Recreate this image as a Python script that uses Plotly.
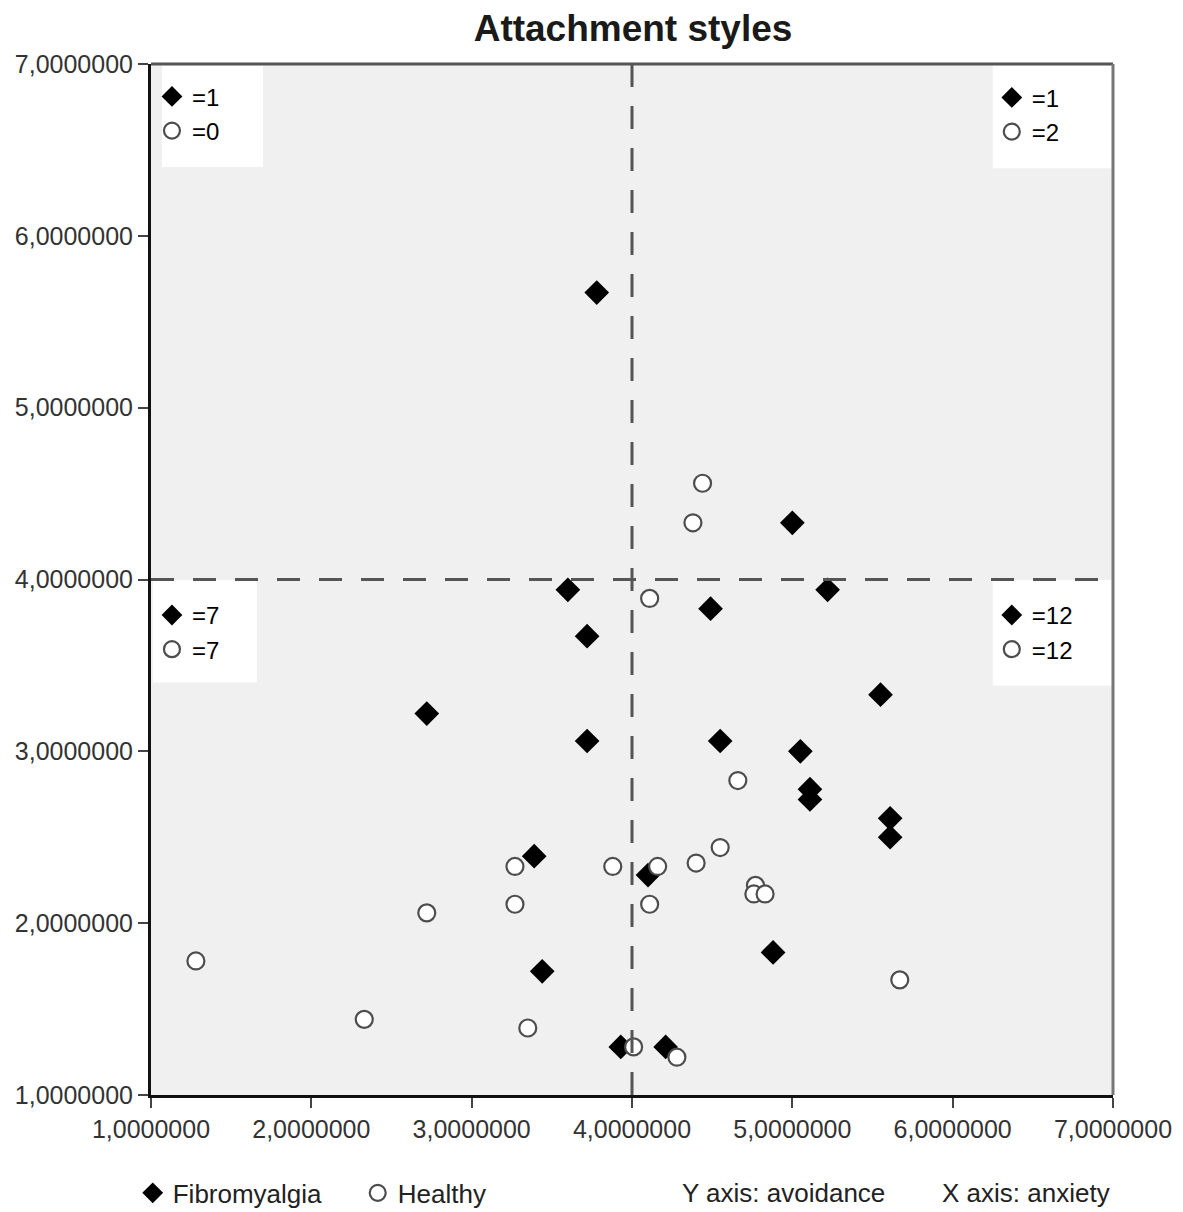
import plotly.graph_objects as go

# ---------------- data ----------------
fibro_anxiety = [3.78, 5.00, 5.22, 3.60, 4.49, 3.72, 2.72, 5.55, 3.72, 4.55, 5.05,
                 5.11, 5.11, 5.61, 5.61, 3.39, 4.10, 3.44, 4.88, 3.93, 4.21]
fibro_avoidance = [5.67, 4.33, 3.94, 3.94, 3.83, 3.67, 3.22, 3.33, 3.06, 3.06, 3.00,
                   2.78, 2.72, 2.61, 2.50, 2.39, 2.28, 1.72, 1.83, 1.28, 1.28]

healthy_anxiety = [4.44, 4.38, 4.11, 4.66, 4.55, 4.40, 3.88, 4.16, 3.27, 3.27, 4.11,
                   4.77, 4.76, 4.83, 2.72, 1.28, 5.67, 2.33, 3.35, 4.01, 4.28]
healthy_avoidance = [4.56, 4.33, 3.89, 2.83, 2.44, 2.35, 2.33, 2.33, 2.33, 2.11, 2.11,
                     2.22, 2.17, 2.17, 2.06, 1.78, 1.67, 1.44, 1.39, 1.28, 1.22]

threshold = 4.0
axis_ticks = [1, 2, 3, 4, 5, 6, 7]
group_names = ["Fibromyalgia", "Healthy"]
title_text = "Attachment styles"
axis_note_y = "Y axis: avoidance"
axis_note_x = "X axis: anxiety"

# ---------------- styles ----------------
FONT = "Liberation Sans"
diamond_style = dict(symbol="diamond", size=19, color="black", line=dict(width=0))
circle_style = dict(symbol="circle", size=17, color="white", line=dict(width=2.2, color="#4d4d4d"))


def quadrant_count(xs, ys, left, top):
    n = 0
    for x, y in zip(xs, ys):
        if (x < threshold) == left and (y > threshold) == top:
            n += 1
    return n


fig = go.Figure()
fig.add_trace(go.Scatter(x=fibro_anxiety, y=fibro_avoidance, mode="markers",
                         name=group_names[0], marker=diamond_style, legend="legend"))
fig.add_trace(go.Scatter(x=healthy_anxiety, y=healthy_avoidance, mode="markers",
                         name=group_names[1], marker=circle_style, legend="legend"))

# corner count legends
corners = {
    "legend2": (True, True),    # top-left
    "legend3": (False, True),   # top-right
    "legend4": (True, False),   # bottom-left
    "legend5": (False, False),  # bottom-right
}
for lg, (left, top) in corners.items():
    nf = quadrant_count(fibro_anxiety, fibro_avoidance, left, top)
    nh = quadrant_count(healthy_anxiety, healthy_avoidance, left, top)
    fig.add_trace(go.Scatter(x=[None], y=[None], mode="markers", name="=%d" % nf,
                             marker=diamond_style, legend=lg))
    fig.add_trace(go.Scatter(x=[None], y=[None], mode="markers", name="=%d" % nh,
                             marker=circle_style, legend=lg))

# white boxes behind the corner legends
boxes = [(0.0114, 0.1164, 0.900, 1.0), (0.875, 1.0, 0.899, 1.0),
         (0.002, 0.110, 0.400, 0.4995), (0.875, 1.0, 0.397, 0.4995)]
for x0, x1, y0, y1 in boxes:
    fig.add_shape(type="rect", xref="x domain", yref="y domain", x0=x0, x1=x1, y0=y0, y1=y1,
                  fillcolor="white", line=dict(width=0), layer="below")

# threshold dashed lines
dash_line = dict(color="#555555", width=3, dash="23px,19px")
fig.add_shape(type="line", xref="x", yref="y domain", x0=threshold, x1=threshold, y0=0, y1=1,
              line=dash_line, layer="above")
fig.add_shape(type="line", xref="x domain", yref="y", x0=0, x1=1, y0=threshold, y1=threshold,
              line=dash_line, layer="above")

# top / right frame
fig.add_shape(type="line", xref="x domain", yref="y domain", x0=0, x1=1, y0=1, y1=1,
              line=dict(color="#555555", width=3), layer="above")
fig.add_shape(type="line", xref="x domain", yref="y domain", x0=1, x1=1, y0=0, y1=1,
              line=dict(color="#777777", width=3), layer="above")

axis_common = dict(range=[1, 7], tickvals=axis_ticks, tickformat=".7f", showgrid=False,
                   zeroline=False, showline=True, linecolor="#111111", linewidth=3,
                   ticks="outside", ticklen=10, tickwidth=2, tickcolor="#444444",
                   tickfont=dict(family=FONT, size=25, color="#333333"))

legend_common = dict(bgcolor="rgba(0,0,0,0)", font=dict(family=FONT, size=24, color="black"),
                     xanchor="left", yanchor="top", tracegroupgap=0, itemsizing="trace")

# page body adds an 8px margin, so the figure is offset by 8px
fig.update_layout(
    width=1167, height=1212, autosize=False,
    margin=dict(l=143, r=62, t=56, b=125, autoexpand=False),
    paper_bgcolor="white", plot_bgcolor="#f0f0f0",
    separators=",.",
    title=dict(text="<b>%s</b>" % title_text, x=0.5356, xanchor="center",
               y=1 - 20 / 1212, yanchor="middle", yref="container",
               font=dict(family=FONT, size=37, color="#1a1a1a")),
    xaxis=axis_common,
    yaxis=axis_common,
    showlegend=True,
    legend=dict(orientation="h", x=-0.019, y=-0.095, xanchor="left", yanchor="middle",
                entrywidth=180, entrywidthmode="pixels",
                bgcolor="rgba(0,0,0,0)", font=dict(family=FONT, size=26, color="#222222")),
    legend2=dict(legend_common, x=0.001, y=0.99),
    legend3=dict(legend_common, x=0.874, y=0.989),
    legend4=dict(legend_common, x=0.001, y=0.487),
    legend5=dict(legend_common, x=0.874, y=0.487),
    annotations=[
        dict(text=axis_note_y, xref="paper", yref="paper", x=0.55, y=-0.095,
             xanchor="left", yanchor="middle", showarrow=False,
             font=dict(family=FONT, size=26, color="#222222")),
        dict(text=axis_note_x, xref="paper", yref="paper", x=0.820, y=-0.095,
             xanchor="left", yanchor="middle", showarrow=False,
             font=dict(family=FONT, size=26, color="#222222")),
    ],
)

fig.write_html("out.html")
